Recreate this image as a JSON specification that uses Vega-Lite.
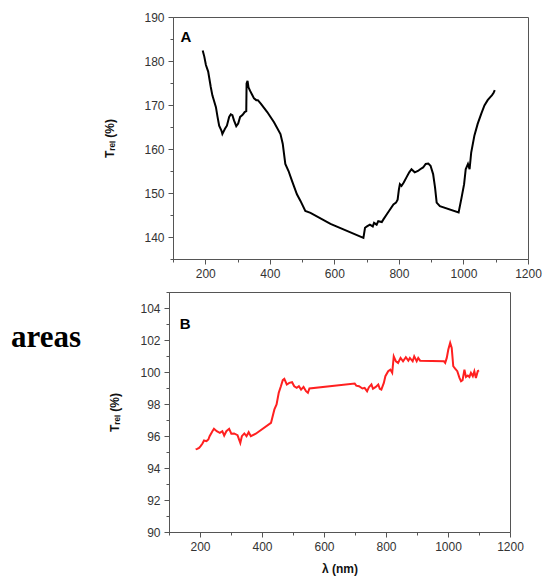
{
  "$schema": "https://vega.github.io/schema/vega-lite/v6.json",
  "padding": {"left": 5, "top": 10, "right": 5, "bottom": 5},
  "background": "white",
  "config": {
    "font": "Liberation Sans",
    "view": {"stroke": "#555", "strokeWidth": 1},
    "axis": {
      "grid": false,
      "domainColor": "#555",
      "tickColor": "#555",
      "tickSize": 5,
      "tickCount": 100,
      "format": "d",
      "labelFont": "Liberation Sans",
      "labelFontSize": 12,
      "labelColor": "#333",
      "labelPadding": 4,
      "labelOverlap": false,
      "labelFlush": false,
      "titleFont": "Liberation Sans",
      "titleFontSize": 12,
      "titleFontWeight": "bold",
      "titleColor": "#111"
    }
  },
  "datasets": {
    "a": [
      {"nm": 192, "t": 182.4}, {"nm": 197, "t": 181}, {"nm": 202, "t": 179.1}, {"nm": 209, "t": 177.6},
      {"nm": 217, "t": 174.1}, {"nm": 222, "t": 172.2}, {"nm": 233, "t": 169.5}, {"nm": 238, "t": 167.3},
      {"nm": 243, "t": 165.3}, {"nm": 250, "t": 164.2}, {"nm": 253, "t": 163.4}, {"nm": 261, "t": 164.6},
      {"nm": 267, "t": 165.3}, {"nm": 274, "t": 167.3}, {"nm": 279, "t": 167.9}, {"nm": 284, "t": 167.7},
      {"nm": 289, "t": 166.5}, {"nm": 296, "t": 165.2}, {"nm": 302, "t": 165.8}, {"nm": 308, "t": 167.3},
      {"nm": 315, "t": 167.7}, {"nm": 318, "t": 168.0}, {"nm": 322, "t": 168.4}, {"nm": 327, "t": 168.6},
      {"nm": 328, "t": 174.9}, {"nm": 331, "t": 175.5}, {"nm": 334, "t": 174}, {"nm": 339, "t": 173.2},
      {"nm": 346, "t": 172.2}, {"nm": 351, "t": 171.5}, {"nm": 358, "t": 171.1}, {"nm": 363, "t": 171.1},
      {"nm": 372, "t": 170.3}, {"nm": 392, "t": 168.4}, {"nm": 413, "t": 166.1}, {"nm": 433, "t": 163.4},
      {"nm": 440, "t": 161.2}, {"nm": 448, "t": 156.6}, {"nm": 458, "t": 155}, {"nm": 469, "t": 152.7},
      {"nm": 484, "t": 149.7}, {"nm": 495, "t": 148.2}, {"nm": 510, "t": 145.9}, {"nm": 526, "t": 145.5},
      {"nm": 588, "t": 143}, {"nm": 690, "t": 139.8}, {"nm": 695, "t": 142.1}, {"nm": 701, "t": 142.4},
      {"nm": 710, "t": 142.8}, {"nm": 719, "t": 142.4}, {"nm": 723, "t": 143.2}, {"nm": 731, "t": 142.8},
      {"nm": 736, "t": 143.6}, {"nm": 747, "t": 143.4}, {"nm": 752, "t": 144}, {"nm": 762, "t": 145.1},
      {"nm": 773, "t": 146.3}, {"nm": 783, "t": 147.4}, {"nm": 791, "t": 147.8}, {"nm": 796, "t": 148.5},
      {"nm": 800, "t": 150.8}, {"nm": 803, "t": 152}, {"nm": 808, "t": 151.6}, {"nm": 815, "t": 152.4},
      {"nm": 823, "t": 153.5}, {"nm": 832, "t": 154.7}, {"nm": 839, "t": 155.4}, {"nm": 849, "t": 154.7},
      {"nm": 859, "t": 155}, {"nm": 866, "t": 155.4}, {"nm": 875, "t": 155.8}, {"nm": 883, "t": 156.6},
      {"nm": 891, "t": 156.7}, {"nm": 898, "t": 156.2}, {"nm": 906, "t": 154.3}, {"nm": 912, "t": 151.2},
      {"nm": 917, "t": 147.8}, {"nm": 927, "t": 147}, {"nm": 985, "t": 145.6}, {"nm": 994, "t": 148.9},
      {"nm": 1002, "t": 152}, {"nm": 1007, "t": 155.4}, {"nm": 1014, "t": 156.6}, {"nm": 1019, "t": 155.4},
      {"nm": 1024, "t": 159.2}, {"nm": 1034, "t": 163.1}, {"nm": 1044, "t": 165.7}, {"nm": 1055, "t": 168},
      {"nm": 1065, "t": 169.9}, {"nm": 1075, "t": 171.1}, {"nm": 1083, "t": 171.8}, {"nm": 1088, "t": 172.2},
      {"nm": 1093, "t": 172.7}, {"nm": 1097, "t": 173.4}
    ],
    "b": [
      {"nm": 186, "t": 95.16}, {"nm": 191, "t": 95.2}, {"nm": 197, "t": 95.26}, {"nm": 202, "t": 95.37},
      {"nm": 208, "t": 95.53}, {"nm": 213, "t": 95.72}, {"nm": 221, "t": 95.68}, {"nm": 227, "t": 95.78},
      {"nm": 231, "t": 95.99}, {"nm": 240, "t": 96.3}, {"nm": 245, "t": 96.45}, {"nm": 254, "t": 96.3},
      {"nm": 264, "t": 96.2}, {"nm": 272, "t": 96.3}, {"nm": 278, "t": 96.03}, {"nm": 285, "t": 96.3},
      {"nm": 294, "t": 96.45}, {"nm": 301, "t": 96.14}, {"nm": 310, "t": 96.16}, {"nm": 321, "t": 96.05},
      {"nm": 330, "t": 95.57}, {"nm": 335, "t": 95.99}, {"nm": 343, "t": 96.16}, {"nm": 350, "t": 95.99},
      {"nm": 357, "t": 96.24}, {"nm": 364, "t": 95.99}, {"nm": 380, "t": 96.14}, {"nm": 429, "t": 96.82},
      {"nm": 440, "t": 97.66}, {"nm": 447, "t": 97.97}, {"nm": 454, "t": 98.7}, {"nm": 461, "t": 99.11},
      {"nm": 467, "t": 99.49}, {"nm": 472, "t": 99.57}, {"nm": 480, "t": 99.22}, {"nm": 488, "t": 99.32},
      {"nm": 497, "t": 99.36}, {"nm": 504, "t": 99.11}, {"nm": 512, "t": 99.01}, {"nm": 519, "t": 99.11},
      {"nm": 526, "t": 98.9}, {"nm": 534, "t": 99.07}, {"nm": 542, "t": 98.8}, {"nm": 548, "t": 98.7},
      {"nm": 553, "t": 98.97}, {"nm": 699, "t": 99.28}, {"nm": 704, "t": 99.15}, {"nm": 713, "t": 99.11},
      {"nm": 724, "t": 98.97}, {"nm": 731, "t": 99.01}, {"nm": 739, "t": 98.8}, {"nm": 745, "t": 99.05},
      {"nm": 753, "t": 99.22}, {"nm": 758, "t": 98.95}, {"nm": 767, "t": 99.07}, {"nm": 775, "t": 99.22},
      {"nm": 780, "t": 98.95}, {"nm": 785, "t": 98.9}, {"nm": 793, "t": 99.32}, {"nm": 798, "t": 99.74},
      {"nm": 807, "t": 100.05}, {"nm": 814, "t": 100.15}, {"nm": 820, "t": 99.95}, {"nm": 825, "t": 100.98},
      {"nm": 832, "t": 100.67}, {"nm": 839, "t": 100.57}, {"nm": 847, "t": 100.88}, {"nm": 855, "t": 100.67},
      {"nm": 864, "t": 100.92}, {"nm": 872, "t": 100.71}, {"nm": 877, "t": 100.88}, {"nm": 886, "t": 100.67},
      {"nm": 891, "t": 100.98}, {"nm": 899, "t": 100.67}, {"nm": 904, "t": 100.88}, {"nm": 910, "t": 100.71},
      {"nm": 987, "t": 100.67}, {"nm": 991, "t": 100.57}, {"nm": 996, "t": 100.88}, {"nm": 1001, "t": 101.4},
      {"nm": 1007, "t": 101.82}, {"nm": 1012, "t": 101.5}, {"nm": 1017, "t": 100.36}, {"nm": 1023, "t": 100.21},
      {"nm": 1030, "t": 100.05}, {"nm": 1037, "t": 99.63}, {"nm": 1042, "t": 99.42}, {"nm": 1047, "t": 99.49},
      {"nm": 1053, "t": 100.15}, {"nm": 1058, "t": 99.69}, {"nm": 1064, "t": 99.78}, {"nm": 1069, "t": 99.69},
      {"nm": 1074, "t": 99.95}, {"nm": 1080, "t": 99.74}, {"nm": 1085, "t": 100.05}, {"nm": 1090, "t": 99.63},
      {"nm": 1096, "t": 100.05}, {"nm": 1100, "t": 100.1}
    ]
  },
  "spacing": 5,
  "vconcat": [
    {
      "spacing": 0,
      "hconcat": [
        {
          "width": 98,
          "height": 10,
          "view": {"stroke": null},
          "data": {"values": [{"s": ""}]},
          "mark": {"type": "text"},
          "encoding": {"text": {"field": "s"}}
        },
        {
          "width": 355,
          "height": 242,
          "layer": [
            {
              "data": {"name": "a"},
              "mark": {"type": "line", "color": "#000000", "strokeWidth": 2},
              "encoding": {
                "x": {
                  "field": "nm", "type": "quantitative",
                  "scale": {"domain": [100, 1200], "nice": false, "zero": false},
                  "axis": {
                    "title": null,
                    "tickCount": 100,
                    "values": [100, 200, 300, 400, 500, 600, 700, 800, 900, 1000, 1100, 1200],
                    "labelExpr": "datum.value % 200 === 0 ? datum.label : ''",
                    "tickSize": {"condition": {"test": "datum.value % 200 === 0", "value": 5}, "value": 3}
                  }
                },
                "y": {
                  "field": "t", "type": "quantitative",
                  "scale": {"domain": [135, 190], "nice": false, "zero": false},
                  "axis": {
                    "title": "Tᵣₑₗ (%)",
                    "titlePadding": 27,
                    "tickCount": 100,
                    "values": [135, 140, 145, 150, 155, 160, 165, 170, 175, 180, 185, 190],
                    "labelExpr": "datum.value % 10 === 0 ? datum.label : ''",
                    "tickSize": {"condition": {"test": "datum.value % 10 === 0", "value": 5}, "value": 3}
                  }
                }
              }
            },
            {
              "data": {"values": [{"nm": 123, "t": 185.5, "label": "A"}]},
              "mark": {"type": "text", "align": "left", "baseline": "middle", "fontSize": 15, "fontWeight": "bold", "color": "#000"},
              "encoding": {
                "x": {"field": "nm", "type": "quantitative"},
                "y": {"field": "t", "type": "quantitative"},
                "text": {"field": "label"}
              }
            }
          ]
        }
      ]
    },
    {
      "spacing": 21,
      "hconcat": [
        {
          "width": 82,
          "height": 92,
          "view": {"stroke": null},
          "data": {"values": [{"s": "areas"}]},
          "mark": {"type": "text", "font": "Liberation Serif", "fontSize": 31, "fontWeight": "bold", "color": "#000"},
          "encoding": {"text": {"field": "s"}}
        },
        {
          "width": 341,
          "height": 240,
          "layer": [
            {
              "data": {"name": "b"},
              "mark": {"type": "line", "color": "#ff2020", "strokeWidth": 2},
              "encoding": {
                "x": {
                  "field": "nm", "type": "quantitative",
                  "scale": {"domain": [100, 1200], "nice": false, "zero": false},
                  "axis": {
                    "title": "λ (nm)",
                    "titlePadding": 11,
                    "tickCount": 100,
                    "values": [100, 200, 300, 400, 500, 600, 700, 800, 900, 1000, 1100, 1200],
                    "labelExpr": "datum.value % 200 === 0 ? datum.label : ''",
                    "tickSize": {"condition": {"test": "datum.value % 200 === 0", "value": 5}, "value": 3}
                  }
                },
                "y": {
                  "field": "t", "type": "quantitative",
                  "scale": {"domain": [90, 105], "nice": false, "zero": false},
                  "axis": {
                    "title": "Tᵣₑₗ (%)",
                    "titlePadding": 18,
                    "tickCount": 100,
                    "values": [90, 91, 92, 93, 94, 95, 96, 97, 98, 99, 100, 101, 102, 103, 104, 105],
                    "labelExpr": "datum.value % 2 === 0 ? datum.label : ''",
                    "tickSize": {"condition": {"test": "datum.value % 2 === 0", "value": 5}, "value": 3}
                  }
                }
              }
            },
            {
              "data": {"values": [{"nm": 135, "t": 103, "label": "B"}]},
              "mark": {"type": "text", "align": "left", "baseline": "middle", "fontSize": 15, "fontWeight": "bold", "color": "#000"},
              "encoding": {
                "x": {"field": "nm", "type": "quantitative"},
                "y": {"field": "t", "type": "quantitative"},
                "text": {"field": "label"}
              }
            }
          ]
        }
      ]
    }
  ]
}
